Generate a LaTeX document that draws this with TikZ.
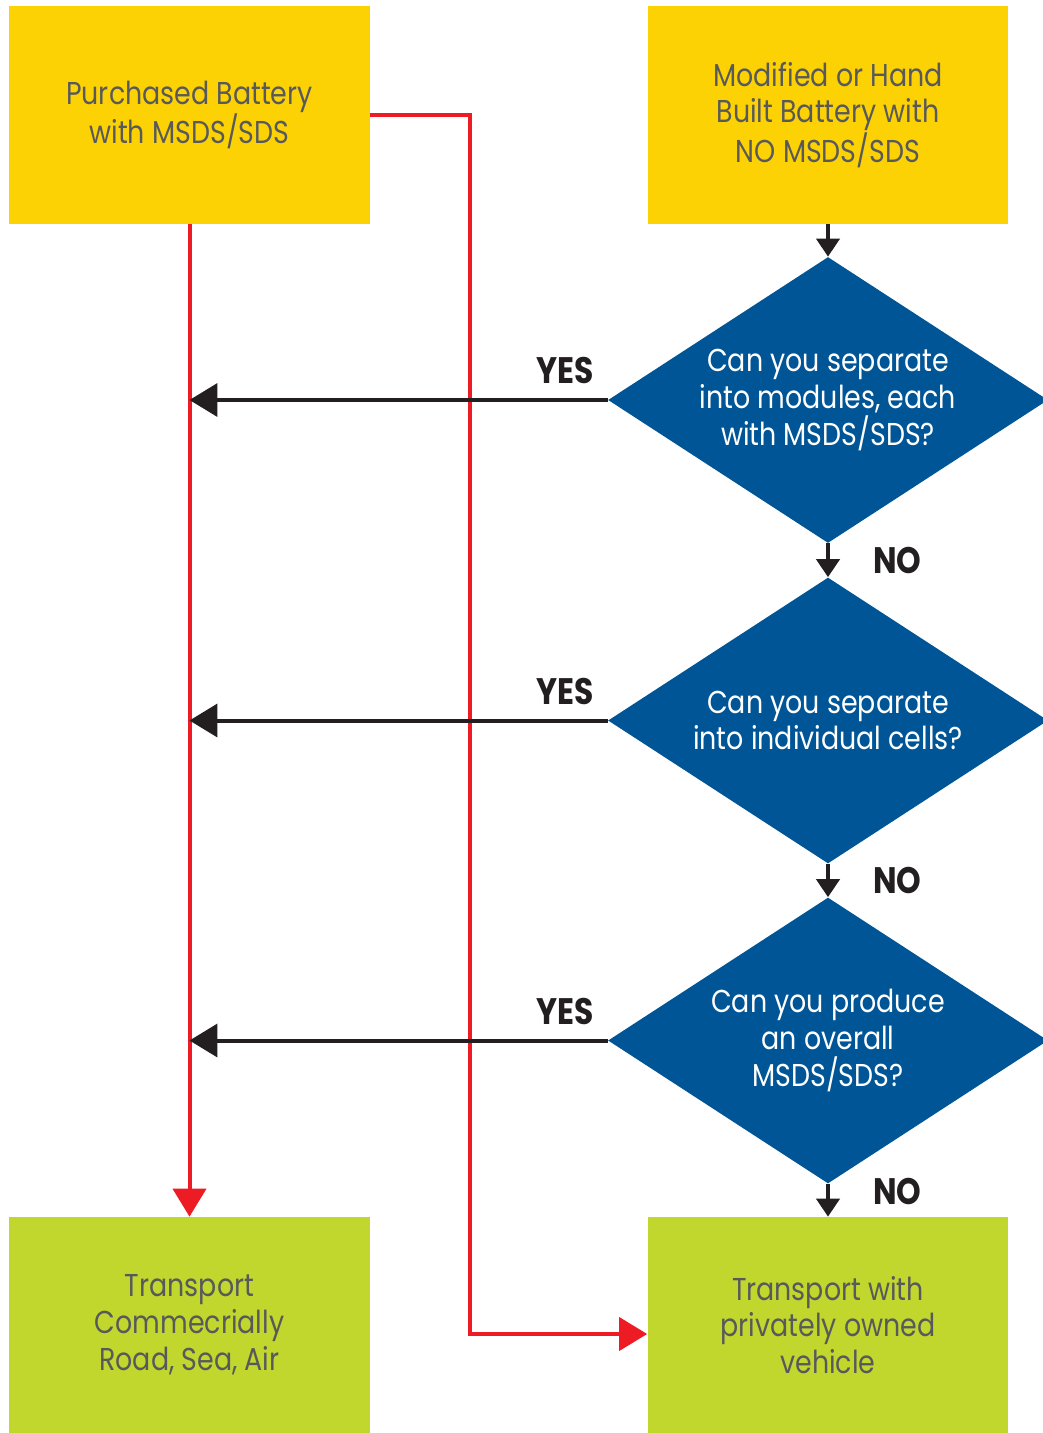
\documentclass[tikz,border=0pt]{standalone}
\usepackage{fontspec}
\setmainfont{Poppins}[FakeStretch=0.85]
\usepackage{tikz}
\usetikzlibrary{arrows.meta,positioning,shapes.geometric,calc}
\definecolor{gold}{HTML}{FDD205}
\definecolor{lime}{HTML}{C1D72E}
\definecolor{navy}{HTML}{005596}
\definecolor{alarm}{HTML}{ED1C24}
\definecolor{ink}{HTML}{231F20}
\definecolor{slate}{HTML}{58595B}
\tikzset{
  src/.style={fill=gold,text=slate,align=center,font=\fontsize{18}{21}\selectfont,minimum width=7.22cm,minimum height=4.36cm,inner sep=0pt},
  dest/.style={src,fill=lime,minimum height=4.32cm},
  ask/.style={diamond,fill=navy,text=white,align=center,font=\fontsize{18}{21}\selectfont,aspect=1.54,minimum width=8.8cm,minimum height=5.72cm,inner sep=0pt},
  arr/.style={-{Triangle[length=0.56cm,width=0.66cm]},line width=0.08cm,draw=ink},
  sarr/.style={-{Triangle[length=0.36cm,width=0.46cm]},line width=0.08cm,draw=ink},
  rarr/.style={-{Triangle[length=0.56cm,width=0.66cm]},line width=0.08cm,draw=alarm},
  ans/.style={font=\bfseries\fontsize{21}{22}\selectfont,text=ink,inner sep=0pt},
}
\begin{document}
\begin{tikzpicture}[x=0.02cm,y=-0.02cm]
\useasboundingbox (0,0) rectangle (1042,1433);
% start boxes
\node[src] (bought) at (189.5,115) {Purchased Battery\\with MSDS/SDS};
\node[src] (built) at (828,115) {Modified or Hand\\Built Battery with\\NO MSDS/SDS};
% questions
\node[ask] (q1) at (828,400) {Can you separate\\into modules, each\\with MSDS/SDS?};
\node[ask] (q2) at (828,720.5) {Can you separate\\into individual cells?};
\node[ask] (q3) at (828,1040.5) {Can you produce\\an overall\\MSDS/SDS?};
% end boxes
\node[dest] (trade) at (189.5,1325) {Transport\\Commecrially\\Road, Sea, Air};
\node[dest] (own) at (828,1325) {Transport with\\privately owned\\vehicle};
\coordinate (jog) at (470,0);
% red routes
\draw[rarr] (bought) -- (trade);
\draw[rarr] (bought.east) -- (bought.east -| jog) -- ($(own.west -| jog)+(0,9)$) -- ($(own.west)+(0,9)$);
% down the right side
\draw[sarr] (built) -- (q1);
\draw[sarr] (q1) -- node[ans,midway,anchor=west,xshift=0.86cm] {NO} (q2);
\draw[sarr] (q2) -- node[ans,midway,anchor=west,xshift=0.86cm] {NO} (q3);
\draw[sarr] (q3) -- node[ans,pos=0.22,anchor=west,xshift=0.86cm] {NO} (own);
% yes branches
\foreach \q in {q1,q2,q3}
  \draw[arr] (\q.west) node[ans,anchor=south east,xshift=-0.24cm,yshift=0.28cm] {YES} -- (\q.west -| bought);
\end{tikzpicture}
\end{document}
